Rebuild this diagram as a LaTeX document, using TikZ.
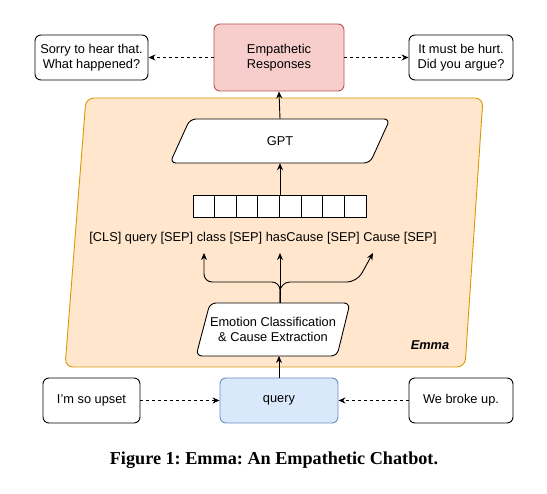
\documentclass[tikz,border=0pt]{standalone}
\usepackage{fontspec}
\setmainfont{Liberation Sans}
\newfontfamily\capfont{Liberation Serif}
\usetikzlibrary{arrows.meta,calc}
\definecolor{orfill}{HTML}{FFE6CC}
\definecolor{ordraw}{HTML}{D79B00}
\definecolor{pkfill}{HTML}{F8CECC}
\definecolor{pkdraw}{HTML}{B85450}
\definecolor{blfill}{HTML}{DAE8FC}
\definecolor{bldraw}{HTML}{6C8EBF}
\frenchspacing
\begin{document}
\begin{tikzpicture}[x=1pt,y=-1pt,
  font=\fontsize{12.8}{15}\selectfont,
  box/.style={draw, rounded corners=6pt, line width=0.9pt, align=center, inner sep=0pt, fill=white},
  arr/.style={-{Stealth[length=7pt,width=6pt]}, line width=0.9pt},
  dsh/.style={arr, dash pattern=on 3pt off 3pt},
  para/.style={draw, fill=white, rounded corners=6pt, line width=0.9pt}]
\useasboundingbox (0,0) rectangle (547,494);
% top row
\node[box, minimum width=130pt, minimum height=67pt, fill=pkfill, draw=pkdraw] (resp) at (279,57.5) {Empathetic\\Responses};
\node[box, minimum width=113pt, minimum height=45pt] (sorry) at (91.5,57.5) {Sorry to hear that.\\What happened?};
\node[box, minimum width=104pt, minimum height=45pt] (hurt) at (461,57.5) {It must be hurt.\\Did you argue?};
% Emma region
\draw[fill=orfill, draw=ordraw, line width=0.9pt, rounded corners=8pt] (86,98) -- (483,98) -- (465,367) -- (65,367) -- cycle;
\node[font=\bfseries\itshape\fontsize{12.8}{15}\selectfont] (emma) at (430,345) {Emma};
% GPT
\draw[para] (190,119) -- (390,119) -- (370,163) -- (170,163) -- cycle;
\node[minimum width=200pt, minimum height=44pt, inner sep=0pt] (gpt) at (280,141) {GPT};
% cells
\node[draw, fill=white, line width=0.9pt, minimum width=173pt, minimum height=22pt, inner sep=0pt] (cells) at (280,206) {};
\foreach \i in {1,...,7}
  \draw[line width=0.9pt] ($(cells.north west)+(21.625*\i,0)$) -- ($(cells.south west)+(21.625*\i,0)$);
\node (tokens) at (263,238) {[CLS] query [SEP] class [SEP] hasCause [SEP] Cause [SEP]};
% emotion
\draw[para] (210,303) -- (350,303) -- (337,356) -- (196,356) -- cycle;
\node[align=center, inner sep=0pt] (emo) at (273,329.5) {Emotion Classification\\\& Cause Extraction};
\coordinate (emot) at (280,303);
\coordinate (emob) at (279,356);
\coordinate (tl) at (204,253);
\coordinate (tm) at (280,253);
\coordinate (tr) at (373,253);
% bottom row
\node[box, minimum width=118pt, minimum height=45pt, fill=blfill, draw=bldraw] (query) at (279,400.5) {query};
\node[box, minimum width=97pt, minimum height=45pt] (upset) at (91.5,400.5) {I'm so upset};
\node[box, minimum width=104pt, minimum height=45pt] (broke) at (461,400.5) {We broke up.};
% connectors
\draw[dsh] (resp.west) -- (sorry.east);
\draw[dsh] (resp.east) -- (hurt.west);
\draw[dsh] (upset.east) -- (query.west);
\draw[dsh] (broke.west) -- (query.east);
\draw[arr] (gpt.north) -- (resp.south);
\draw[arr] (cells.north) -- (gpt.south);
\draw[arr] (query.north) -- (emob);
\draw[arr, rounded corners=8pt] (emot) -- (280,282) -- (204,282) -- (tl);
\draw[arr, rounded corners=10pt] (emot) -- (280,282) -- (357,282) -- (tr);
\draw[arr] (emot) -- (tm);
% caption
\node[font=\capfont\bfseries\fontsize{18.2}{21}\selectfont] (cap) at (274,460) {Figure 1: Emma: An Empathetic Chatbot.};
\end{tikzpicture}
\end{document}
